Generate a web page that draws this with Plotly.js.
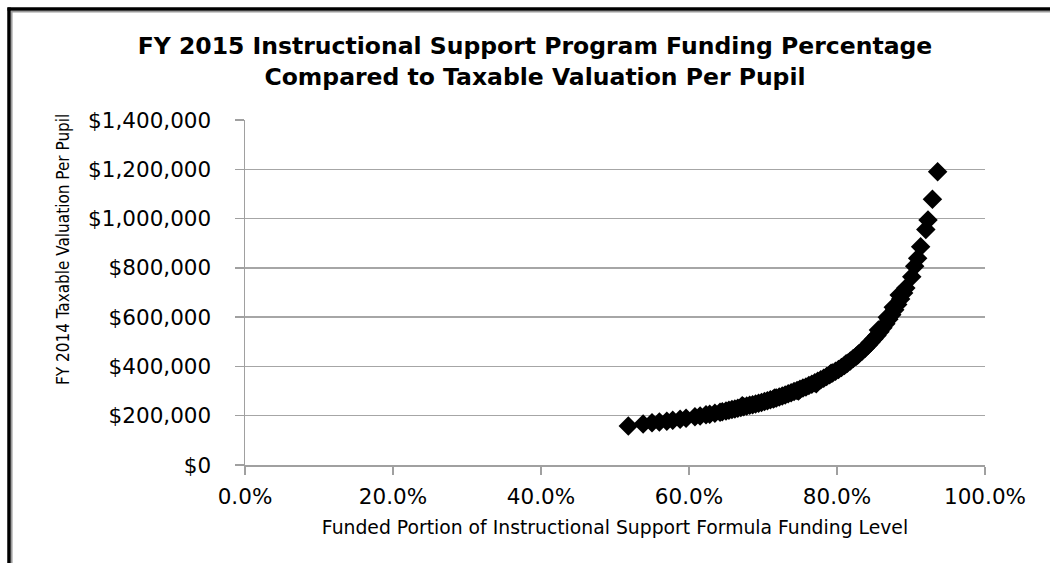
<!DOCTYPE html>
<html>
<head>
<meta charset="utf-8">
<script src="https://cdn.plot.ly/plotly-3.0.1.min.js"></script>
<style>
  html, body { margin: 0; padding: 0; background: #ffffff; }
  #chart { width: 1050px; height: 563px; }
</style>
</head>
<body>
<div id="chart"></div>
<script>
// Funded portion of ISP formula funding level (fraction)
var fundedPct = [
  0.518, 0.538, 0.550, 0.560, 0.570, 0.578, 0.588, 0.596, 0.608, 0.615,
  0.623, 0.628, 0.635, 0.642, 0.645, 0.650, 0.654, 0.658, 0.662, 0.666,
  0.670, 0.674, 0.678, 0.682, 0.686, 0.690, 0.694, 0.698, 0.702, 0.706,
  0.710, 0.714, 0.718, 0.722, 0.726, 0.730, 0.734, 0.738, 0.742, 0.746,
  0.750, 0.754, 0.758, 0.762, 0.766, 0.770, 0.774, 0.778, 0.782, 0.786,
  0.790, 0.794, 0.798, 0.802, 0.806, 0.810, 0.814, 0.818, 0.822, 0.826,
  0.830, 0.834, 0.838, 0.842, 0.846, 0.850, 0.854, 0.858, 0.862, 0.866,
  0.870, 0.874, 0.878, 0.882, 0.886, 0.890, 0.893, 0.901, 0.905, 0.909,
  0.913, 0.920, 0.923, 0.929, 0.936,
  0.672, 0.716, 0.748, 0.772, 0.792, 0.812, 0.828, 0.844, 0.856, 0.868, 0.876, 0.884
];
// FY 2014 taxable valuation per pupil (dollars)
var valuationPerPupil = [
  158000, 166000, 171000, 175000, 178000, 182000, 186000, 190000, 196000, 199000,
  204000, 206000, 210000, 214000, 216000, 219000, 222000, 225000, 227000, 230000,
  233000, 236000, 239000, 242000, 245000, 248000, 251000, 254000, 258000, 261000,
  265000, 268000, 272000, 276000, 280000, 284000, 289000, 293000, 298000, 302000,
  307000, 312000, 317000, 323000, 328000, 334000, 340000, 346000, 352000, 359000,
  366000, 373000, 380000, 388000, 396000, 404000, 413000, 422000, 432000, 441000,
  452000, 463000, 474000, 486000, 499000, 512000, 526000, 541000, 557000, 573000,
  591000, 610000, 630000, 651000, 674000, 698000, 718000, 764000, 807000, 839000,
  886000, 956000, 994000, 1078000, 1190000,
  240000, 272000, 300000, 330000, 372000, 410000, 446000, 494000, 548000, 600000, 640000, 690000
];

var xTickVals = [0, 0.2, 0.4, 0.6, 0.8, 1.0];
var yTickVals = [0, 200000, 400000, 600000, 800000, 1000000, 1200000, 1400000];
var yTickLabels = ['$0', '$200,000', '$400,000', '$600,000', '$800,000', '$1,000,000', '$1,200,000', '$1,400,000'];

var titleText = 'FY 2015 Instructional Support Program Funding Percentage<br>Compared to Taxable Valuation Per Pupil';
var xTitleText = 'Funded Portion of Instructional Support Formula Funding Level';
var yTitleText = 'FY 2014 Taxable Valuation Per Pupil';

var trace = {
  type: 'scatter',
  mode: 'markers',
  x: fundedPct,
  y: valuationPerPupil,
  marker: { symbol: 'diamond', size: 15, color: '#000000', line: { width: 0 } },
  hoverinfo: 'x+y',
  showlegend: false
};

// plot area in pixels: left 245, right 985, top 120, bottom 465
var L = 245, R = 985, T = 120, B = 465, W = 1050, H = 563;
function px2x(p) { return (p - L) / (R - L); }
function px2y(p) { return (B - p) / (B - T); }

var layout = {
  width: W,
  height: H,
  margin: { l: L, r: W - R, t: T, b: H - B, pad: 0 },
  paper_bgcolor: '#ffffff',
  plot_bgcolor: '#ffffff',
  font: { family: 'DejaVu Sans, sans-serif', color: '#000000' },
  title: {
    text: titleText,
    font: { family: 'DejaVu Sans, sans-serif', size: 23.5, color: '#000000', weight: 'bold' },
    x: 535 / W,
    xref: 'container',
    xanchor: 'center',
    y: 1 - 54 / H,
    yref: 'container',
    yanchor: 'top'
  },
  xaxis: {
    range: [0, 1],
    tickvals: xTickVals,
    tickformat: '.1%',
    showgrid: false,
    zeroline: false,
    showline: true,
    linecolor: '#a0a0a0',
    linewidth: 1.5,
    ticks: 'outside',
    ticklen: 8,
    tickwidth: 1.5,
    tickcolor: '#a0a0a0',
    ticklabelstandoff: 4,
    tickfont: { family: 'DejaVu Sans, sans-serif', size: 21.5, color: '#000000' },
    title: {
      text: xTitleText,
      font: { family: 'DejaVu Sans, sans-serif', size: 18.8, color: '#000000' },
      standoff: 12
    },
    fixedrange: true
  },
  yaxis: {
    range: [0, 1400000],
    tickvals: yTickVals,
    ticktext: yTickLabels,
    showgrid: true,
    gridcolor: '#a6a6a6',
    gridwidth: 1.5,
    zeroline: false,
    showline: true,
    linecolor: '#a0a0a0',
    linewidth: 1.5,
    ticks: 'outside',
    ticklen: 9,
    tickwidth: 1.5,
    tickcolor: '#a0a0a0',
    ticklabelstandoff: 19,
    tickfont: { family: 'DejaVu Sans, sans-serif', size: 21.5, color: '#000000' },
    fixedrange: true
  },
  annotations: [
    {
      text: yTitleText,
      xref: 'paper', yref: 'paper',
      x: px2x(63), y: px2y(250),
      xanchor: 'center', yanchor: 'middle',
      textangle: -90,
      showarrow: false,
      font: { family: 'Liberation Sans Narrow, DejaVu Sans Condensed, Roboto Condensed, Liberation Sans, sans-serif', size: 17, color: '#000000' }
    }
  ],
  shapes: [
    { type: 'line', xref: 'paper', yref: 'paper', x0: px2x(7.5), x1: px2x(1052), y0: px2y(9), y1: px2y(9), line: { color: '#000000', width: 3.5 } },
    { type: 'line', xref: 'paper', yref: 'paper', x0: px2x(11.5), x1: px2x(1052), y0: px2y(11.8), y1: px2y(11.8), line: { color: '#9a9a9a', width: 1.5 } },
    { type: 'line', xref: 'paper', yref: 'paper', x0: px2x(9), x1: px2x(9), y0: px2y(7.5), y1: px2y(565), line: { color: '#000000', width: 3.5 } },
    { type: 'line', xref: 'paper', yref: 'paper', x0: px2x(11.8), x1: px2x(11.8), y0: px2y(11), y1: px2y(565), line: { color: '#9a9a9a', width: 1.5 } }
  ]
};

Plotly.newPlot('chart', [trace], layout, { displayModeBar: false, staticPlot: true });
</script>
</body>
</html>
